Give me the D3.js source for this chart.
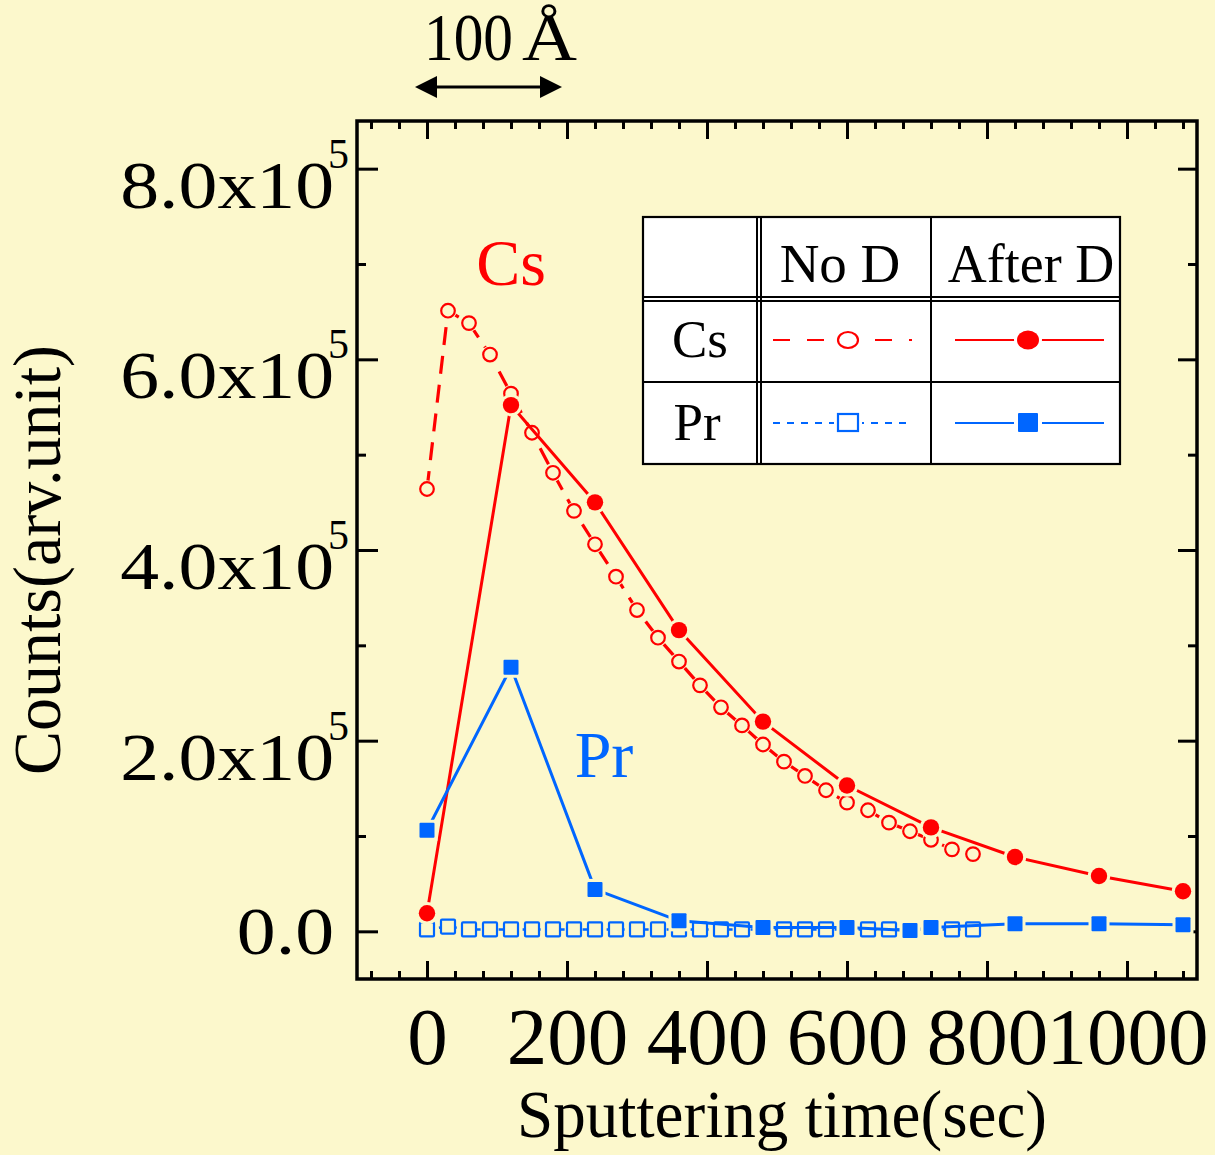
<!DOCTYPE html>
<html><head><meta charset="utf-8">
<script src="https://cdn.jsdelivr.net/npm/d3@7"></script>
<style>
body{margin:0;background:#fcf8cc}
svg{display:block}
text{font-family:"Liberation Serif","Times New Roman",serif;fill:#000}
</style></head>
<body><svg id="c" width="1215" height="1155"></svg>
<script>
// ---------------- data ----------------
const timeNoD = [0,30,60,90,120,150,180,210,240,270,300,330,360,390,420,450,480,510,540,570,600,630,660,690,720,750,780];
const csNoD   = [4.64e5,6.51e5,6.38e5,6.05e5,5.64e5,5.23e5,4.81e5,4.41e5,4.06e5,3.72e5,3.37e5,3.08e5,2.83e5,2.58e5,2.35e5,2.16e5,1.96e5,1.78e5,1.63e5,1.48e5,1.35e5,1.27e5,1.14e5,1.05e5,0.96e5,0.86e5,0.81e5];
const prNoD   = [0.02e5,0.05e5,0.02e5,0.02e5,0.02e5,0.02e5,0.02e5,0.02e5,0.02e5,0.02e5,0.02e5,0.02e5,0.02e5,0.02e5,0.02e5,0.02e5,0.02e5,0.02e5,0.02e5,0.02e5,0.02e5,0.02e5,0.02e5,0.02e5,0.02e5,0.02e5,0.02e5];
const timeCsAfter = [0,120,240,360,480,600,720,840,960,1080];
const csAfterD    = [0.19e5,5.52e5,4.50e5,3.16e5,2.20e5,1.53e5,1.09e5,0.78e5,0.58e5,0.42e5];
const timePrAfter = [0,120,240,360,480,600,690,720,840,960,1080];
const prAfterD    = [1.06e5,2.77e5,0.44e5,0.11e5,0.04e5,0.04e5,0.01e5,0.04e5,0.08e5,0.08e5,0.07e5];
const timeRedUnder = [480,600,720];
const redUnder     = [0.06e5,0.06e5,0.06e5];
const xTickValues = [0,200,400,600,800,1000];
const yTickValues = [0,2e5,4e5,6e5,8e5];
const yTickLabels = ["0.0","2.0x10","4.0x10","6.0x10","8.0x10"];
const yExponent = "5";
const legendCols = ["No D","After D"];
const legendRows = ["Cs","Pr"];

// ---------------- setup ----------------
const BG = '#fcf8cc', RED = '#ff0000', BLUE = '#0066ff';
const svg = d3.select('#c');
svg.append('rect').attr('width',1215).attr('height',1155).attr('fill',BG);

const L=357, R=1197, T=121, B=979;
const x = d3.scaleLinear().domain([-100,1100]).range([L,R]);
const y = d3.scaleLinear().domain([-0.5e5,8.5e5]).range([B,T]);

const xMinor = d3.range(-80,1100,40).filter(v=>v%200!==0);
const yMinor = [1e5,3e5,5e5,7e5];

function styleAxis(g){
  g.select('.domain').remove();
  g.selectAll('.tick line').attr('stroke','#000').attr('stroke-width',3);
}
// bottom
svg.append('g').attr('transform',`translate(0,${B})`)
  .call(d3.axisBottom(x).tickValues(xTickValues).tickSize(-18).tickPadding(27).tickFormat(d3.format('d')))
  .call(styleAxis)
  .call(g=>g.selectAll('text').attr('font-size',81).attr('font-family','"Liberation Serif",serif').attr('fill','#000'));
svg.append('g').attr('transform',`translate(0,${B})`)
  .call(d3.axisBottom(x).tickValues(xMinor).tickSize(-8).tickFormat(''))
  .call(styleAxis);
// top
svg.append('g').attr('transform',`translate(0,${T})`)
  .call(d3.axisTop(x).tickValues(xTickValues).tickSize(-18).tickFormat(''))
  .call(styleAxis);
svg.append('g').attr('transform',`translate(0,${T})`)
  .call(d3.axisTop(x).tickValues(xMinor).tickSize(-8).tickFormat(''))
  .call(styleAxis);
// left
svg.append('g').attr('transform',`translate(${L},0)`)
  .call(d3.axisLeft(y).tickValues(yTickValues).tickSize(-21).tickFormat(''))
  .call(styleAxis);
svg.append('g').attr('transform',`translate(${L},0)`)
  .call(d3.axisLeft(y).tickValues(yMinor).tickSize(-9).tickFormat(''))
  .call(styleAxis);
// right
svg.append('g').attr('transform',`translate(${R},0)`)
  .call(d3.axisRight(y).tickValues(yTickValues).tickSize(-19).tickFormat(''))
  .call(styleAxis);
svg.append('g').attr('transform',`translate(${R},0)`)
  .call(d3.axisRight(y).tickValues(yMinor).tickSize(-9).tickFormat(''))
  .call(styleAxis);
// frame
svg.append('rect').attr('x',L).attr('y',T).attr('width',R-L).attr('height',B-T)
  .attr('fill','none').attr('stroke','#000').attr('stroke-width',3.5);

// y tick labels
yTickValues.forEach((v,i)=>{
  const lab = yTickLabels[i];
  const hasExp = lab.indexOf('x10')>=0;
  const t = svg.append('text').attr('x',334).attr('y',y(v)+(hasExp?39:23))
    .attr('text-anchor','end').attr('font-size',67).text(lab);
  const len = t.node().getComputedTextLength();
  t.attr('textLength',len*1.16).attr('lengthAdjust','spacingAndGlyphs');
  if(hasExp){
    svg.append('text').attr('x',328).attr('y',y(v)-1).attr('font-size',42).text(yExponent);
  }
});

// axis titles
svg.append('text').attr('transform','translate(60,560) rotate(-90)')
  .attr('text-anchor','middle').attr('font-size',68)
  .attr('textLength',430).attr('lengthAdjust','spacingAndGlyphs').text('Counts(arv.unit)');
svg.append('text').attr('x',782).attr('y',1137).attr('text-anchor','middle').attr('font-size',68)
  .attr('textLength',530).attr('lengthAdjust','spacingAndGlyphs').text('Sputtering time(sec)');

// scale bar
svg.append('text').attr('x',424).attr('y',60).attr('font-size',67)
  .attr('textLength',89).attr('lengthAdjust','spacingAndGlyphs').text('100');
svg.append('text').attr('x',522).attr('y',60).attr('font-size',67)
  .attr('textLength',55).attr('lengthAdjust','spacingAndGlyphs').text('Å');
svg.append('line').attr('x1',432).attr('x2',545).attr('y1',87).attr('y2',87).attr('stroke','#000').attr('stroke-width',3);
svg.append('path').attr('d','M415,87 L437,76 L437,98 Z').attr('fill','#000');
svg.append('path').attr('d','M562,87 L540,76 L540,98 Z').attr('fill','#000');

// ---------------- series ----------------
function pts(xs,ys){return xs.map((t,i)=>[x(t),y(ys[i])]);}
function drawLine(p,color,w,dash){
  svg.append('path').attr('d',d3.line()(p)).attr('fill','none').attr('stroke',color)
    .attr('stroke-width',w).attr('stroke-dasharray',dash||null).attr('stroke-linejoin','round');
}
function circles(p,r,color,filled,halo){
  const g = svg.append('g');
  if(halo) g.selectAll('.h').data(p).join('circle').attr('cx',d=>d[0]).attr('cy',d=>d[1]).attr('r',r+halo).attr('fill',BG);
  g.selectAll('.m').data(p).join('circle').attr('cx',d=>d[0]).attr('cy',d=>d[1]).attr('r',r)
    .attr('fill',filled?color:BG).attr('stroke',color).attr('stroke-width',filled?0:2.2);
}
function squares(p,s,color,filled,halo){
  const g = svg.append('g');
  if(halo) g.selectAll('.h').data(p).join('rect').attr('x',d=>d[0]-s/2-halo).attr('y',d=>d[1]-s/2-halo)
    .attr('width',s+2*halo).attr('height',s+2*halo).attr('fill',BG);
  g.selectAll('.m').data(p).join('rect').attr('x',d=>d[0]-s/2).attr('y',d=>d[1]-s/2)
    .attr('width',s).attr('height',s).attr('rx',1)
    .attr('fill',filled?color:BG).attr('stroke',color).attr('stroke-width',filled?0:2.2);
}

const pCsNoD = pts(timeNoD,csNoD);
drawLine(pCsNoD,RED,3.2,'18,11');
circles(pCsNoD,6.8,RED,false,2);

const pPrNoD = pts(timeNoD,prNoD);
drawLine(pPrNoD,BLUE,2.5,'6,6');
squares(pPrNoD,14,BLUE,false,0);

const pCsA = pts(timeCsAfter,csAfterD);
drawLine(pCsA,RED,3);
circles(pCsA,8.2,RED,true,3);

squares(pts(timeRedUnder,redUnder),15,RED,true,0);
const pPrA = pts(timePrAfter,prAfterD);
drawLine(pPrA,BLUE,3);
squares(pPrA,15,BLUE,true,3);

// series labels
svg.append('text').attr('x',511).attr('y',285).attr('text-anchor','middle').attr('font-size',66).style('fill',RED).text('Cs');
svg.append('text').attr('x',604).attr('y',777).attr('text-anchor','middle').attr('font-size',66).style('fill',BLUE).text('Pr');

// ---------------- legend table ----------------
const lg = svg.append('g');
lg.append('rect').attr('x',643).attr('y',217).attr('width',477).attr('height',247).attr('fill','#fff').attr('stroke','#000').attr('stroke-width',2.2);
[[757,217,757,464],[761,217,761,464],[931,217,931,464],[643,297,1120,297],[643,301,1120,301],[643,382,1120,382]]
  .forEach(l=>lg.append('line').attr('x1',l[0]).attr('y1',l[1]).attr('x2',l[2]).attr('y2',l[3]).attr('stroke','#000').attr('stroke-width',2));
lg.append('text').attr('x',840).attr('y',282).attr('text-anchor','middle').attr('font-size',55).text(legendCols[0]);
lg.append('text').attr('x',1031).attr('y',282).attr('text-anchor','middle').attr('font-size',54).text(legendCols[1]);
lg.append('text').attr('x',700).attr('y',357).attr('text-anchor','middle').attr('font-size',53).text(legendRows[0]);
lg.append('text').attr('x',697).attr('y',440).attr('text-anchor','middle').attr('font-size',53).text(legendRows[1]);
// samples
function lline(x1,x2,yy,color,dash){lg.append('line').attr('x1',x1).attr('x2',x2).attr('y1',yy).attr('y2',yy).attr('stroke',color).attr('stroke-width',2.2).attr('stroke-dasharray',dash||null);}
lline(773,912,340,RED,'17,17');
lg.append('ellipse').attr('cx',848).attr('cy',340).attr('rx',13).attr('ry',11).attr('fill','#fff');
lg.append('ellipse').attr('cx',848).attr('cy',340).attr('rx',10).attr('ry',8).attr('fill','#fff').attr('stroke',RED).attr('stroke-width',2.2);
lline(955,1104,340,RED);
lg.append('ellipse').attr('cx',1028).attr('cy',340).attr('rx',14).attr('ry',12).attr('fill','#fff');
lg.append('ellipse').attr('cx',1028).attr('cy',340).attr('rx',11).attr('ry',9.5).attr('fill',RED);
lline(773,913,423,BLUE,'7,7');
lg.append('rect').attr('x',834).attr('y',410).attr('width',28).attr('height',26).attr('fill','#fff');
lg.append('rect').attr('x',838).attr('y',414).attr('width',20).attr('height',17).attr('fill','#fff').attr('stroke',BLUE).attr('stroke-width',2.2);
lline(955,1104,423,BLUE);
lg.append('rect').attr('x',1014).attr('y',409).attr('width',28).attr('height',27).attr('fill','#fff');
lg.append('rect').attr('x',1018).attr('y',413).attr('width',20).attr('height',19).attr('rx',1).attr('fill',BLUE);
</script></body></html>
